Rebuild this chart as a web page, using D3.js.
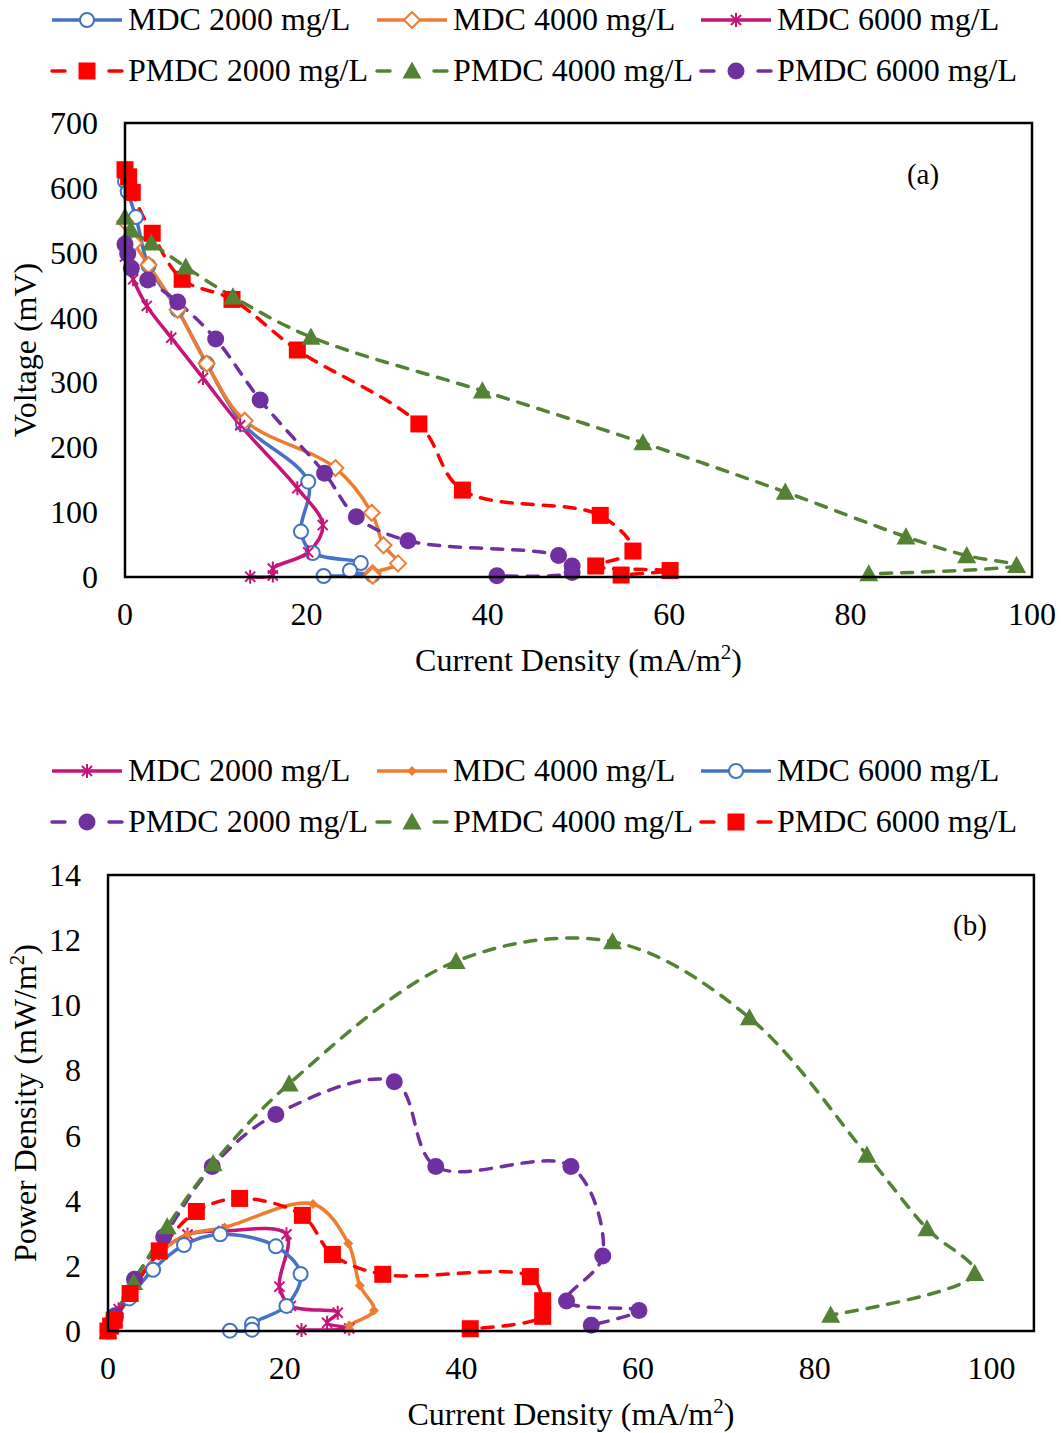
<!DOCTYPE html>
<html>
<head>
<meta charset="utf-8">
<script src="https://cdn.jsdelivr.net/npm/d3@7"></script>
<style>
  body { margin: 0; background: #fff; }
  svg text { font-family: "Liberation Serif", "Times New Roman", serif; fill: #000; }
</style>
</head>
<body>
<div id="chart"></div>
<script>
// canvas
const width = 1063
const height = 1433

// ---- panel (a): voltage vs current density  [current mA/m2, voltage mV]
const mdc2000A = [[0,610],[0.3,594],[1.2,555],[2.6,480],[5.8,412],[9,329],[13,236],[20.2,147],[19.4,70],[20.7,37],[26,21.5],[24.8,10],[27.3,3],[21.9,1.5]]
const mdc4000A = [[0,548],[1,515],[2.6,481],[5.8,412],[9,329],[13.2,241],[23.2,168],[27.2,99],[28.5,49],[30.1,21],[27.3,6],[27.3,2]]
const mdc6000A = [[0,494],[0.9,459],[2.4,418],[5.1,369],[8.6,307],[12.7,234],[19,137],[21.8,80],[20.2,38],[16.3,13],[16.3,2.5],[13.8,0.5]]
const pmdc2000A = [[0,628],[0.4,617],[0.8,593],[3,530],[6.3,459],[11.8,428],[19,350],[32.4,236],[37.2,134],[52.4,95],[56,40],[51.9,17],[60.1,10],[54.7,3]]
const pmdc4000A = [[0,555],[0.66,535],[2.9,515],[6.7,478],[11.9,432],[20.5,370],[39.4,287],[57.1,207],[72.8,131],[86.1,62],[92.8,33],[98.3,18],[82,5]]
const pmdc6000A = [[0,513],[0.3,498],[0.7,476],[2.5,458],[5.8,424],[10,367],[14.9,273],[22,160],[25.5,93],[31.2,56],[47.8,33],[49.3,17],[49.3,7],[41,2]]

// ---- panel (b): power density vs current density  [current mA/m2, power mW/m2]
const mdc2000B = [[0,0],[0.3,0.18],[1.2,0.67],[2.6,1.25],[5.8,2.39],[9,2.96],[13,3.07],[20.2,2.97],[19.4,1.36],[20.7,0.77],[26,0.56],[24.8,0.25],[27.3,0.08],[21.9,0.03]]
const mdc4000B = [[0,0],[1,0.52],[2.6,1.25],[5.8,2.39],[9,2.96],[13.2,3.18],[23.2,3.9],[27.2,2.69],[28.5,1.4],[30.1,0.63],[27.3,0.16],[27.3,0.05]]
const mdc6000B = [[0,0],[0.9,0.41],[2.4,1.0],[5.1,1.88],[8.6,2.64],[12.7,2.97],[19,2.6],[21.8,1.75],[20.2,0.77],[16.3,0.21],[16.3,0.04],[13.8,0.01]]
const pmdc2000B = [[0,0],[0.4,0.25],[0.8,0.47],[3,1.59],[6.3,2.89],[11.8,5.05],[19,6.65],[32.4,7.65],[37.1,5.05],[52.4,5.05],[56,2.3],[51.9,0.92],[60.1,0.63],[54.7,0.18]]
const pmdc4000B = [[0,0],[0.66,0.35],[2.9,1.49],[6.7,3.2],[11.9,5.14],[20.5,7.59],[39.4,11.35],[57.1,11.95],[72.6,9.62],[85.9,5.4],[92.7,3.14],[98.1,1.77],[81.8,0.49]]
const pmdc6000B = [[0,0],[0.3,0.15],[0.7,0.33],[2.5,1.15],[5.8,2.46],[10,3.67],[14.9,4.07],[22,3.55],[25.4,2.35],[31.1,1.74],[47.8,1.67],[49.2,0.93],[49.2,0.45],[41,0.07]]

const xTicks = [0, 20, 40, 60, 80, 100]
const yTicksA = [0, 100, 200, 300, 400, 500, 600, 700]
const yTicksB = [0, 2, 4, 6, 8, 10, 12, 14]

// colours
const cBlue = "#4472c4", cOrange = "#ed7d31", cPink = "#c5157a"
const cRed = "#ff0000", cGreen = "#548235", cPurple = "#7030a0"

const fs = 32

const svg = d3.select("#chart").append("svg")
  .attr("width", width)
  .attr("height", height)

// star marker (asterisk) path
function starPath(r) {
  const d = r * 0.72
  return `M0,${-r}L0,${r}M${-d},${-d}L${d},${d}M${-d},${d}L${d},${-d}`
}

function markerShape(g, m) {
  if (m.type == "circle") {
    g.append("circle").attr("r", m.size)
      .attr("fill", m.fill).attr("stroke", m.color).attr("stroke-width", m.sw || 0)
  } else if (m.type == "square") {
    g.append("rect").attr("x", -m.size).attr("y", -m.size)
      .attr("width", m.size * 2).attr("height", m.size * 2).attr("fill", m.color)
  } else if (m.type == "triangle") {
    const s = m.size
    g.append("path").attr("d", `M0,${-s}L${s},${s*0.8}L${-s},${s*0.8}Z`).attr("fill", m.color)
  } else if (m.type == "diamond") {
    const s = m.size
    g.append("path").attr("d", `M0,${-s}L${s},0L0,${s}L${-s},0Z`)
      .attr("fill", m.fill).attr("stroke", m.color).attr("stroke-width", m.sw || 0)
  } else if (m.type == "star") {
    g.append("path").attr("d", starPath(m.size))
      .attr("stroke", m.color).attr("stroke-width", 2).attr("fill", "none")
  }
}

function drawPanel(cfg) {
  // x scale set so that 100 falls on cfg.x100
  const x = d3.scaleLinear().domain([0, 100]).range([cfg.left, cfg.x100])
  const y = d3.scaleLinear().domain(cfg.yDomain).range([cfg.bottom, cfg.top])
  const frameRight = x(cfg.xMax)

  const g = svg.append("g")

  // series
  cfg.series.forEach(function(s) {
    const line = d3.line()
      .x(d => x(d[0]))
      .y(d => y(d[1]))
      .curve(d3.curveCatmullRom.alpha(0.5))
    g.append("path")
      .datum(s.data)
      .attr("d", line)
      .attr("fill", "none")
      .attr("stroke", s.color)
      .attr("stroke-width", 3.5)
      .attr("stroke-linecap", s.dash ? "round" : "butt")
      .attr("stroke-dasharray", s.dash ? "11,10" : null)
  })
  cfg.series.forEach(function(s) {
    g.append("g").selectAll("g")
      .data(s.data)
      .enter().append("g")
      .attr("transform", d => "translate(" + x(d[0]) + "," + y(d[1]) + ")")
      .each(function() { markerShape(d3.select(this), s.marker) })
  })

  // frame
  g.append("rect")
    .attr("x", cfg.left).attr("y", cfg.top)
    .attr("width", frameRight - cfg.left)
    .attr("height", cfg.bottom - cfg.top)
    .attr("fill", "none").attr("stroke", "#000").attr("stroke-width", 2.5)

  // tick labels
  g.selectAll(".xt").data(xTicks).enter().append("text")
    .attr("x", d => x(d)).attr("y", cfg.bottom + 48)
    .attr("text-anchor", "middle").attr("font-size", fs)
    .text(d => d)
  g.selectAll(".yt").data(cfg.yTicks).enter().append("text")
    .attr("x", cfg.left - 27).attr("y", d => y(d) + 11)
    .attr("text-anchor", "end").attr("font-size", fs)
    .text(d => d)

  // axis titles
  const xt = g.append("text")
    .attr("x", (cfg.left + frameRight) / 2).attr("y", cfg.bottom + 94)
    .attr("text-anchor", "middle").attr("font-size", fs)
  xt.append("tspan").text("Current Density (mA/m")
  xt.append("tspan").attr("font-size", 21).attr("dy", -12).text("2")
  xt.append("tspan").attr("dy", 12).text(")")

  const yt = g.append("text")
    .attr("transform", "translate(" + 36 + "," + (cfg.top + cfg.bottom) / 2 + ") rotate(-90)")
    .attr("text-anchor", "middle").attr("font-size", fs)
  yt.append("tspan").text(cfg.yTitle)
  if (cfg.ySup) {
    yt.append("tspan").attr("font-size", 21).attr("dy", -12).text("2")
    yt.append("tspan").attr("dy", 12).text(")")
  }

  // panel label
  g.append("text").attr("x", cfg.labelX).attr("y", cfg.labelY)
    .attr("text-anchor", "middle").attr("font-size", 29).text(cfg.label)

  // legend
  const cols = [52, 377, 701]
  cfg.series.forEach(function(s, i) {
    const lx = cols[i % 3]
    const ly = cfg.legendY + (i < 3 ? 0 : 51)
    const lg = g.append("g")
    if (s.dash) {
      lg.append("line").attr("x1", lx).attr("x2", lx + 13).attr("y1", ly).attr("y2", ly)
        .attr("stroke", s.color).attr("stroke-width", 3.5).attr("stroke-linecap", "round")
      lg.append("line").attr("x1", lx + 57).attr("x2", lx + 70).attr("y1", ly).attr("y2", ly)
        .attr("stroke", s.color).attr("stroke-width", 3.5).attr("stroke-linecap", "round")
    } else {
      lg.append("line").attr("x1", lx).attr("x2", lx + 70).attr("y1", ly).attr("y2", ly)
        .attr("stroke", s.color).attr("stroke-width", 3.5)
    }
    const mg = lg.append("g").attr("transform", "translate(" + (lx + 35) + "," + ly + ")")
    markerShape(mg, s.marker)
    lg.append("text").attr("x", lx + 76).attr("y", ly + 10)
      .attr("font-size", fs).text(s.name)
  })
}

// panel (a)
drawPanel({
  left: 125, x100: 1032, xMax: 100, top: 123, bottom: 577,
  yDomain: [0, 700], yTicks: yTicksA,
  yTitle: "Voltage (mV)", ySup: false,
  label: "(a)", labelX: 923, labelY: 184,
  legendY: 20,
  series: [
    { name: "MDC 2000 mg/L", data: mdc2000A, color: cBlue, dash: false, marker: { type: "circle", size: 7, fill: "#fff", color: cBlue, sw: 2 } },
    { name: "MDC 4000 mg/L", data: mdc4000A, color: cOrange, dash: false, marker: { type: "diamond", size: 8, fill: "#fff", color: cOrange, sw: 2 } },
    { name: "MDC 6000 mg/L", data: mdc6000A, color: cPink, dash: false, marker: { type: "star", size: 7, color: cPink } },
    { name: "PMDC 2000 mg/L", data: pmdc2000A, color: cRed, dash: true, marker: { type: "square", size: 8.5, color: cRed } },
    { name: "PMDC 4000 mg/L", data: pmdc4000A, color: cGreen, dash: true, marker: { type: "triangle", size: 9.5, color: cGreen } },
    { name: "PMDC 6000 mg/L", data: pmdc6000A, color: cPurple, dash: true, marker: { type: "circle", size: 8.5, fill: cPurple, color: cPurple } }
  ]
})

// panel (b)
drawPanel({
  left: 108, x100: 991.5, xMax: 104.8, top: 875, bottom: 1331,
  yDomain: [0, 14], yTicks: yTicksB,
  yTitle: "Power Density (mW/m", ySup: true,
  label: "(b)", labelX: 970, labelY: 935,
  legendY: 771,
  series: [
    { name: "MDC 2000 mg/L", data: mdc2000B, color: cPink, dash: false, marker: { type: "star", size: 7, color: cPink } },
    { name: "MDC 4000 mg/L", data: mdc4000B, color: cOrange, dash: false, marker: { type: "diamond", size: 5, fill: cOrange, color: cOrange, sw: 0 } },
    { name: "MDC 6000 mg/L", data: mdc6000B, color: cBlue, dash: false, marker: { type: "circle", size: 7, fill: "#fff", color: cBlue, sw: 2 } },
    { name: "PMDC 2000 mg/L", data: pmdc2000B, color: cPurple, dash: true, marker: { type: "circle", size: 8.5, fill: cPurple, color: cPurple } },
    { name: "PMDC 4000 mg/L", data: pmdc4000B, color: cGreen, dash: true, marker: { type: "triangle", size: 9.5, color: cGreen } },
    { name: "PMDC 6000 mg/L", data: pmdc6000B, color: cRed, dash: true, marker: { type: "square", size: 8.5, color: cRed } }
  ]
})
</script>
</body>
</html>
